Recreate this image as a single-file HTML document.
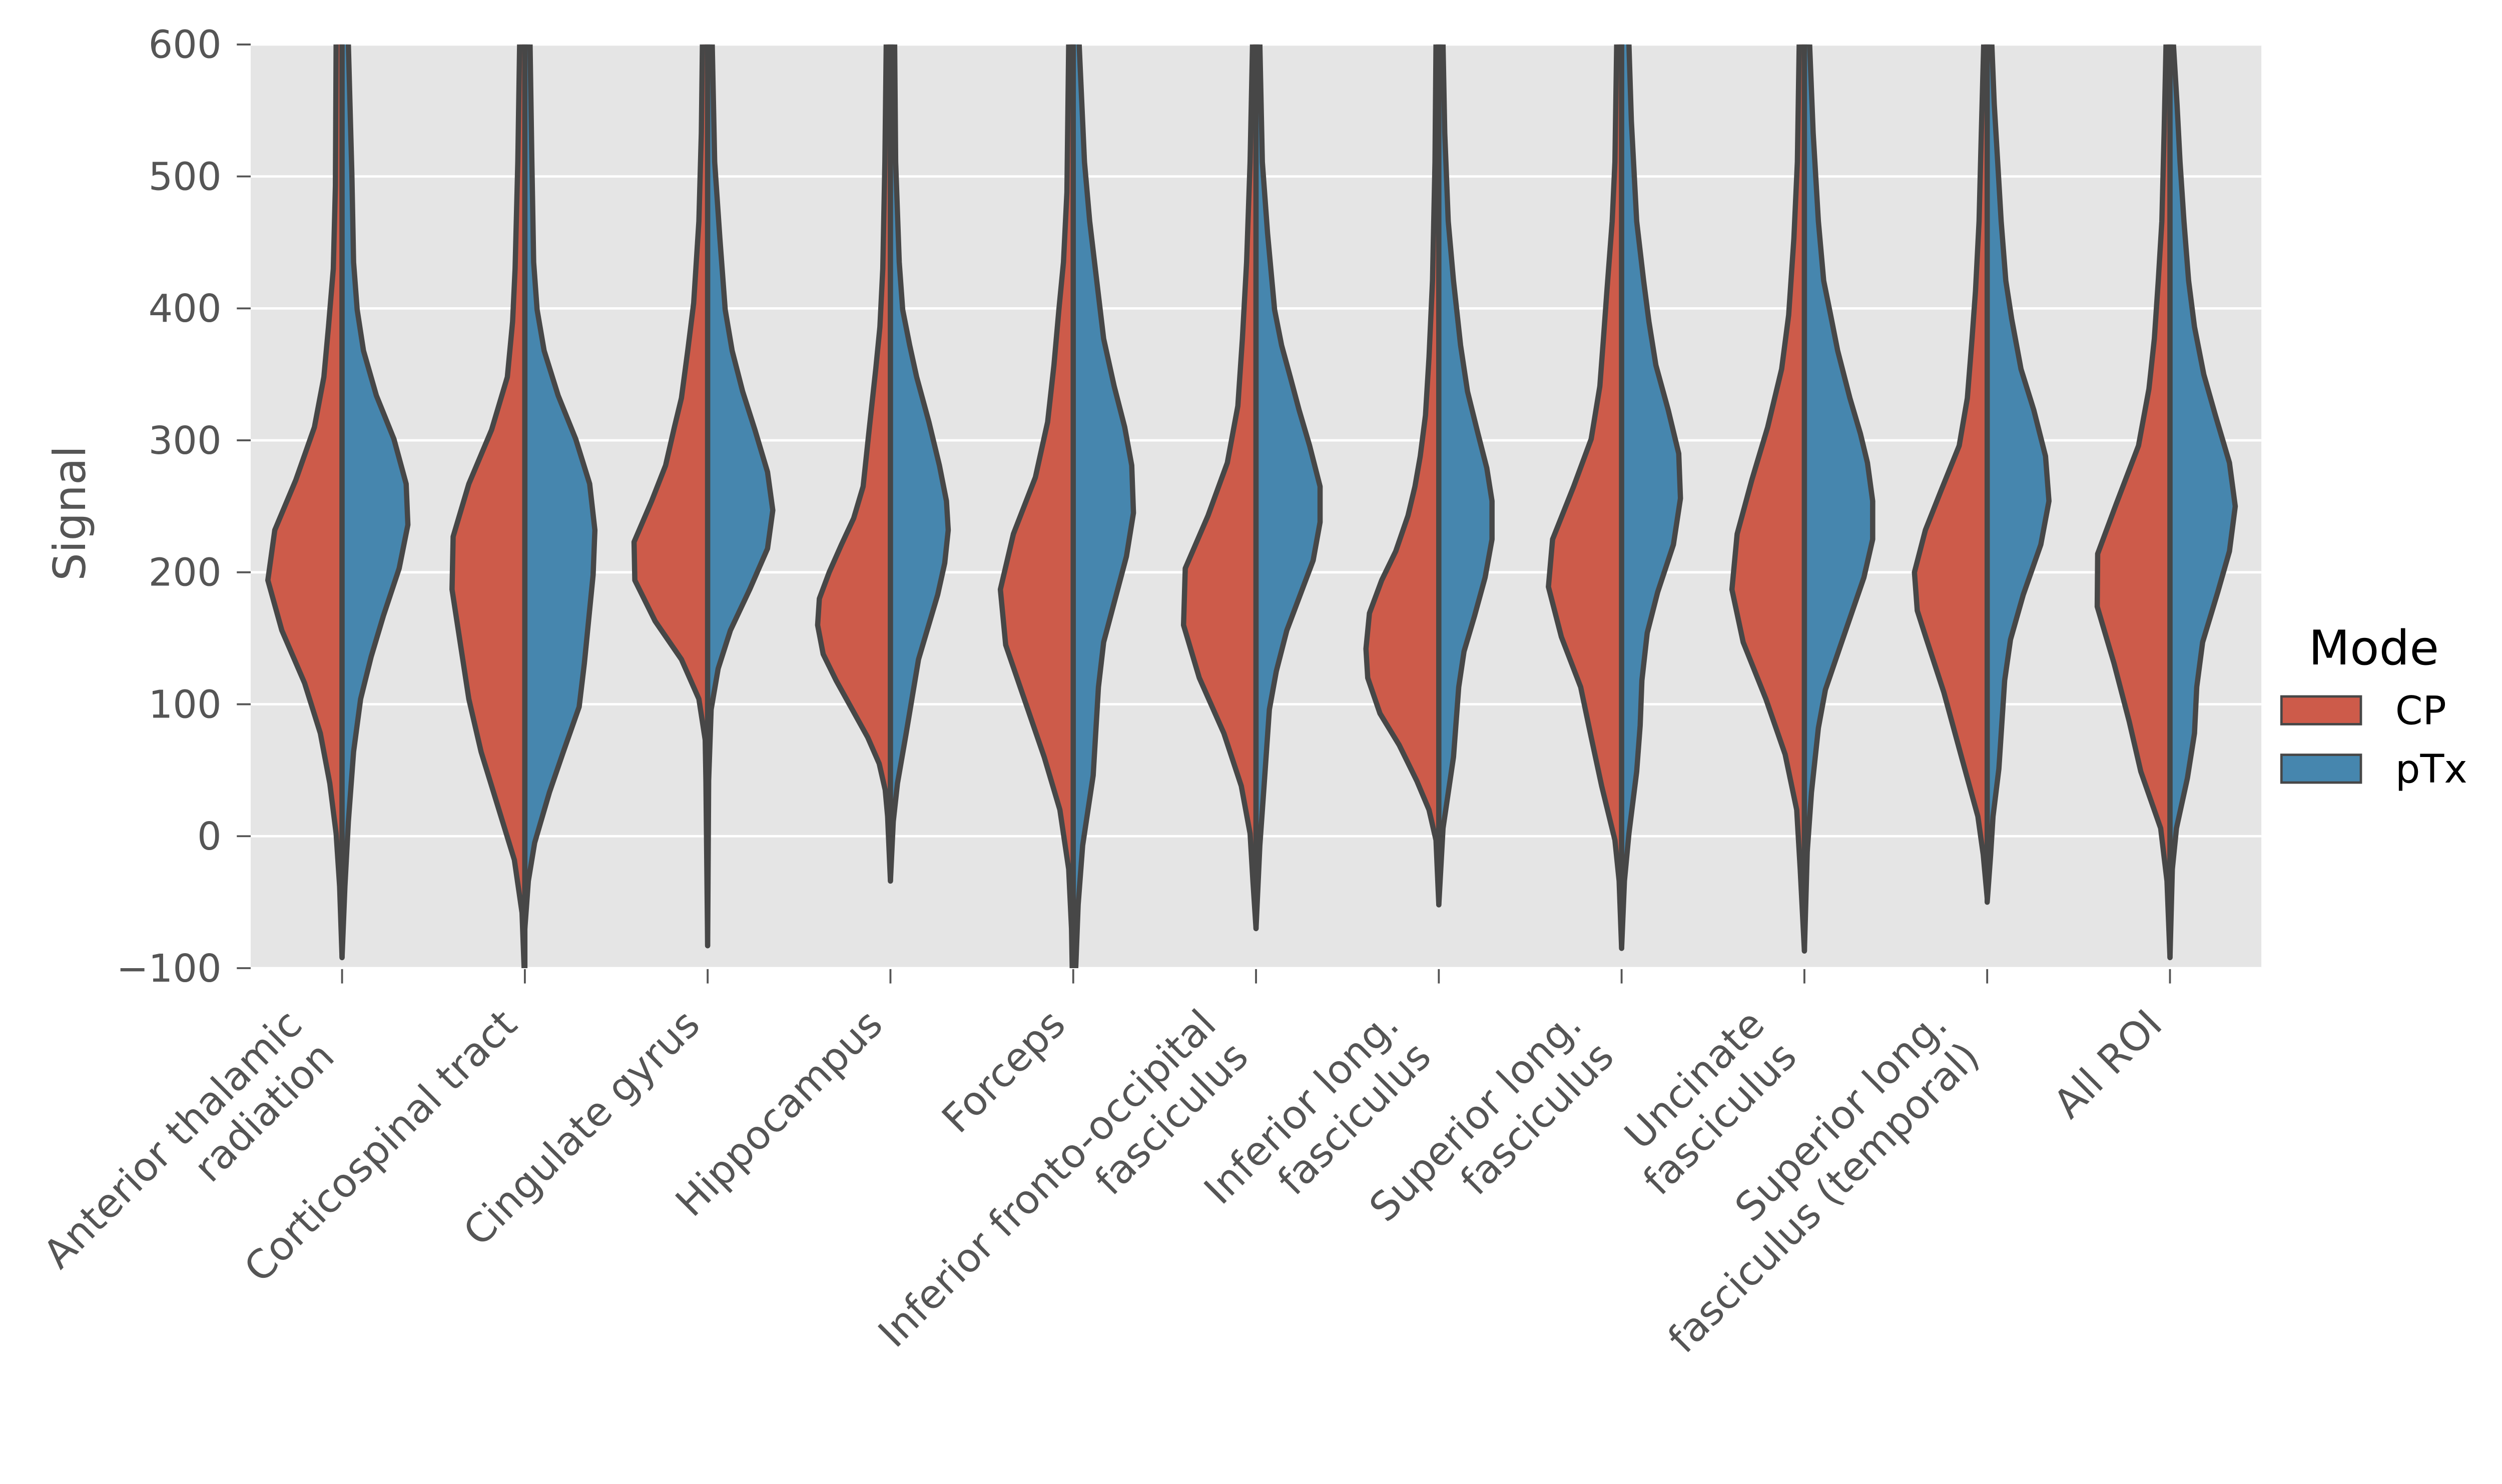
<!DOCTYPE html>
<html><head><meta charset="utf-8"><style>
html,body{margin:0;padding:0;background:#fff;overflow:hidden;}
svg{display:block;width:100vw;height:calc(100vw * 2966 / 5230);}
text{font-family:"DejaVu Sans","Liberation Sans",sans-serif;}
</style></head><body>
<svg id="chart" viewBox="0 0 5230 2966" xmlns="http://www.w3.org/2000/svg">
<defs><clipPath id="plotclip"><rect x="524" y="93" width="4203" height="1931"/></clipPath></defs>
<rect x="524" y="93" width="4203" height="1931" fill="#e5e5e5"/>
<g id="grid"></g>
<g id="violins" clip-path="url(#plotclip)"></g>
<g id="axes"></g>
<text transform="translate(178,1073) rotate(-90)" text-anchor="middle" font-size="92" fill="#555">Signal</text>
<g>
<text x="4962" y="1389" text-anchor="middle" font-size="100" fill="#000">Mode</text>
<rect x="4769" y="1456" width="166" height="58" fill="#cd5b4a" stroke="#474747" stroke-width="5"/>
<text x="5007" y="1514" font-size="82" fill="#000">CP</text>
<rect x="4769" y="1578" width="166" height="58" fill="#4686ae" stroke="#474747" stroke-width="5"/>
<text x="5007" y="1636" font-size="82" fill="#000">pTx</text>
</g>
</svg>
<script>
const categories = [["Anterior thalamic","radiation"],["Corticospinal tract"],["Cingulate gyrus"],["Hippocampus"],["Forceps"],["Inferior fronto-occipital","fasciculus"],["Inferior long.","fasciculus"],["Superior long.","fasciculus"],["Uncinate","fasciculus"],["Superior long.","fasciculus (temporal)"],["All ROI"]];
const yTicks = [600,500,400,300,200,100,0,-100];
const yTickLabels = ["600","500","400","300","200","100","0","\u2212100"];
// [signal, relative density] CP (left halves)
const cpValues = [
[[680,.05],[600,.065],[493,.073],[430,.096],[386,.149],[348,.199],[310,.303],[270,.506],[232,.736],[194,.812],[156,.659],[116,.41],[78,.238],[40,.134],[2,.065],[-38,.027],[-92,0]],
[[680,.045],[600,.057],[511,.077],[430,.107],[390,.134],[348,.192],[308,.364],[267,.613],[227,.785],[187,.797],[104,.613],[64,.479],[-18,.115],[-58,.031],[-100,.008],[-110,0]],
[[680,.045],[600,.057],[533,.069],[466,.096],[404,.153],[368,.218],[332,.287],[310,.364],[281,.46],[254,.613],[223,.805],[194,.797],[163,.575],[134,.287],[104,.096],[73,.027],[42,.019],[-83,0]],
[[680,.035],[600,.046],[511,.061],[430,.084],[386,.115],[354,.161],[310,.23],[265,.299],[241,.402],[221,.536],[200,.67],[180,.778],[160,.797],[138,.736],[118,.594],[75,.249],[55,.123],[35,.057],[15,.031],[-34,0]],
[[680,.04],[600,.05],[488,.069],[435,.107],[399,.157],[357,.211],[314,.28],[272,.414],[229,.655],[187,.797],[145,.739],[60,.318],[20,.146],[-25,.05],[-70,.019],[-100,.011],[-110,0]],
[[680,.03],[600,.038],[511,.065],[435,.103],[377,.149],[326,.199],[283,.314],[243,.525],[203,.774],[160,.793],[120,.621],[78,.352],[38,.161],[2,.065],[-34,.034],[-70,0]],
[[680,.025],[600,.031],[511,.042],[421,.069],[363,.107],[319,.146],[288,.203],[265,.261],[243,.337],[216,.471],[194,.625],[169,.759],[142,.797],[120,.778],[93,.644],[69,.433],[42,.241],[20,.107],[-3,.031],[-52,0]],
[[680,.045],[600,.054],[511,.073],[466,.103],[413,.161],[377,.199],[341,.238],[301,.333],[265,.525],[225,.755],[189,.801],[151,.659],[113,.448],[75,.333],[38,.218],[-3,.073],[-34,.027],[-85,0]],
[[680,.045],[600,.057],[511,.077],[453,.115],[395,.172],[354,.249],[310,.402],[270,.575],[229,.736],[187,.793],[147,.67],[104,.421],[62,.211],[20,.084],[-25,.046],[-87,0]],
[[680,.03],[600,.038],[533,.064],[466,.089],[413,.128],[377,.166],[332,.217],[296,.306],[261,.51],[232,.676],[200,.796],[171,.765],[149,.663],[109,.474],[60,.281],[15,.102],[-14,.043],[-47,0]],
[[680,.035],[600,.043],[533,.064],[466,.089],[421,.128],[377,.171],[339,.23],[296,.344],[252,.587],[214,.791],[174,.796],[131,.612],[87,.446],[49,.319],[6,.102],[-34,.033],[-92,0]]
];
// [signal, relative density] pTx (right halves)
const ptxValues = [
[[680,.055],[600,.069],[502,.107],[435,.126],[399,.165],[368,.234],[334,.375],[301,.567],[267,.701],[236,.72],[203,.625],[167,.452],[136,.318],[104,.203],[64,.126],[11,.069],[-38,.031],[-92,0]],
[[680,.045],[600,.057],[511,.077],[435,.096],[399,.134],[368,.211],[334,.364],[301,.556],[267,.709],[232,.766],[198,.747],[131,.651],[98,.594],[64,.421],[33,.268],[-5,.107],[-34,.038],[-70,0]],
[[680,.04],[600,.05],[511,.077],[453,.134],[399,.192],[368,.268],[337,.383],[308,.517],[276,.655],[247,.713],[218,.655],[187,.46],[156,.249],[127,.115],[96,.038],[42,.011],[-83,0]],
[[680,.035],[600,.046],[511,.057],[435,.096],[399,.134],[372,.211],[348,.287],[314,.421],[281,.536],[254,.613],[232,.632],[207,.594],[183,.517],[134,.307],[78,.172],[40,.077],[11,.031],[-34,0]],
[[680,.05],[600,.065],[511,.123],[466,.18],[410,.276],[377,.333],[341,.448],[310,.563],[281,.64],[245,.659],[212,.582],[147,.333],[113,.276],[46,.218],[-7,.103],[-52,.054],[-100,.027],[-110,0]],
[[680,.035],[600,.042],[511,.069],[457,.126],[399,.203],[372,.28],[348,.375],[323,.471],[296,.586],[265,.701],[238,.701],[209,.625],[156,.337],[125,.222],[96,.146],[38,.088],[-7,.042],[-70,0]],
[[680,.035],[600,.046],[533,.065],[466,.103],[421,.161],[372,.238],[337,.314],[305,.429],[279,.525],[254,.582],[225,.582],[196,.506],[167,.391],[140,.276],[113,.218],[60,.161],[6,.046],[-52,0]],
[[680,.065],[600,.08],[542,.107],[466,.165],[421,.241],[390,.299],[357,.375],[323,.51],[290,.625],[256,.644],[221,.567],[185,.395],[154,.28],[118,.222],[84,.203],[49,.165],[2,.08],[-34,.031],[-85,0]],
[[680,.045],[600,.057],[533,.096],[466,.153],[421,.211],[395,.287],[368,.364],[332,.498],[305,.613],[283,.69],[254,.747],[225,.747],[196,.651],[142,.383],[111,.23],[82,.153],[33,.077],[-12,.031],[-87,0]],
[[680,.04],[600,.051],[555,.077],[511,.115],[466,.153],[421,.204],[392,.268],[354,.37],[323,.51],[288,.638],[254,.676],[221,.587],[183,.395],[149,.255],[118,.191],[51,.128],[15,.064],[-14,.038],[-50,0]],
[[680,.03],[600,.038],[555,.077],[511,.11],[466,.153],[421,.204],[386,.268],[350,.37],[319,.497],[283,.651],[250,.714],[216,.651],[185,.523],[147,.357],[113,.293],[78,.268],[44,.191],[6,.071],[-25,.026],[-92,0]]
];

const NS = "http://www.w3.org/2000/svg";
const PL = 524, PR = 4727, PT = 93, PB = 2024;
const YMIN = -100, YMAX = 600;
function yScale(v){ return PB - (v - YMIN) / (YMAX - YMIN) * (PB - PT); }
const slot = (PR - PL) / categories.length;
function xCenter(i){ return PL + slot * (i + 0.5); }
const halfW = slot / 2;
function mk(tag, attrs, parent){ const e = document.createElementNS(NS, tag); for (const k in attrs) e.setAttribute(k, attrs[k]); parent.appendChild(e); return e; }

const grid = document.getElementById('grid');
const axes = document.getElementById('axes');
const vg = document.getElementById('violins');

yTicks.forEach((t, i) => {
  const y = yScale(t);
  const gl = mk('line', {x1: PL, x2: PR, y1: y, y2: y, stroke: '#fff', 'stroke-width': 5}, grid);
  
  
  const tk = mk('line', {x1: 495, x2: 524, y1: y, y2: y, stroke: '#555', 'stroke-width': 4}, axes);
  
  
  const tl = mk('text', {x: 463, y: y + 28, 'text-anchor': 'end', 'font-size': 80, fill: '#555'}, axes);
  tl.textContent = yTickLabels[i];
  
  
});

function half(vals, cx, dir, fill, name){
  const pts = [[cx, yScale(vals[0][0])]];
  vals.forEach(p => pts.push([cx + dir * p[1] * halfW, yScale(p[0])]));
  pts.push([cx, yScale(vals[vals.length - 1][0])]);
  const pg = mk('polygon', {points: pts.map(p => p[0].toFixed(1) + ',' + p[1].toFixed(1)).join(' '), fill: fill, stroke: '#474747', 'stroke-width': 11, 'stroke-linejoin': 'round', 'stroke-linecap': 'round'}, vg);
  
  
}

categories.forEach((lines, i) => {
  const cx = xCenter(i);
  half(cpValues[i], cx, -1, '#cd5b4a', 'violin-cp-half');
  half(ptxValues[i], cx, 1, '#4686ae', 'violin-ptx-half');
  const tk = mk('line', {x1: cx, x2: cx, y1: 2026, y2: 2056, stroke: '#555', 'stroke-width': 4}, axes);
  
  
  const fs = 83, lh = 95, n = lines.length;
  const bx = cx - 12;
  const by = 2102 + 0.76 * fs * 0.707 + (n - 1) * lh * 0.707;
  const tx = mk('text', {transform: 'translate(' + bx.toFixed(1) + ',' + by.toFixed(1) + ') rotate(-45)', 'text-anchor': 'end', 'font-size': fs, fill: '#555'}, axes);
  
  
  lines.forEach((ln, j) => {
    const ts = mk('tspan', {x: 0, y: -(n - 1 - j) * lh}, tx);
    ts.textContent = ln;
  });
});
</script>
</body></html>
